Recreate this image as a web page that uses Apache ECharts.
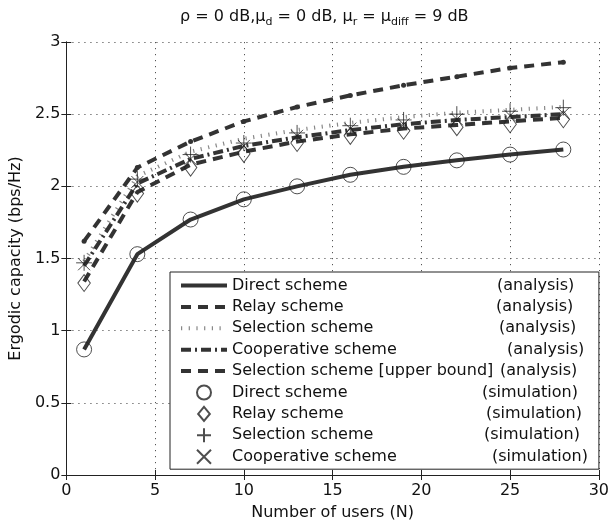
<!DOCTYPE html>
<html>
<head>
<meta charset="utf-8">
<script src="https://cdn.jsdelivr.net/npm/echarts@6/dist/echarts.min.js"></script>
<style>
html,body{margin:0;padding:0;background:#fff;}
#chart{width:612px;height:526px;}
</style>
</head>
<body>
<div id="chart"></div>
<script>
// ---- data ----
var users = [1, 4, 7, 10, 13, 16, 19, 22, 25, 28];

var directAnalysis      = [0.87, 1.53, 1.77, 1.91, 2.00, 2.08, 2.135, 2.18, 2.22, 2.255];
var relayAnalysis       = [1.34, 1.96, 2.15, 2.24, 2.31, 2.36, 2.40, 2.425, 2.45, 2.475];
var selectionAnalysis   = [1.48, 2.07, 2.24, 2.33, 2.39, 2.44, 2.48, 2.51, 2.53, 2.55];
var cooperativeAnalysis = [1.45, 2.02, 2.19, 2.28, 2.34, 2.39, 2.43, 2.46, 2.48, 2.50];
var upperBound          = [1.62, 2.13, 2.31, 2.45, 2.55, 2.63, 2.70, 2.76, 2.82, 2.86];

var directSim      = [0.87, 1.53, 1.77, 1.91, 2.00, 2.08, 2.135, 2.18, 2.22, 2.255];
var relaySim       = [1.33, 1.95, 2.13, 2.225, 2.30, 2.35, 2.385, 2.41, 2.43, 2.465];
var selectionSim   = [1.47, 2.05, 2.22, 2.30, 2.37, 2.42, 2.46, 2.50, 2.52, 2.545];
var cooperativeSim = [1.46, 2.03, 2.19, 2.28, 2.35, 2.40, 2.43, 2.465, 2.49, 2.505];

var legendNames = ['Direct scheme', 'Relay scheme', 'Selection scheme', 'Cooperative scheme',
                   'Selection scheme [upper bound]', 'Direct scheme', 'Relay scheme',
                   'Selection scheme', 'Cooperative scheme'];
var legendTags = ['(analysis)', '(analysis)', '(analysis)', '(analysis)', '(analysis)',
                  '(simulation)', '(simulation)', '(simulation)', '(simulation)'];

var xTicks = { min: 0, max: 30, interval: 5 };
var yTicks = { min: 0, max: 3, interval: 0.5 };

// ---- build ----
function pairs(ys) { return users.map(function (x, i) { return [x, ys[i]]; }); }
var FONT = 'DejaVu Sans';
var LINE = '#333';
var MK = '#222';
var seriesKeys = [];
for (var i = 0; i < legendNames.length; i++) seriesKeys.push(legendNames[i] + ' ' + legendTags[i]);

// column start offsets for tag text (px from text start)
var tagOffsets = [265, 264, 267, 275, 268, 250, 254, 252, 260];
var rich = { };
for (var k = 0; k < 9; k++) {
  rich['a' + k] = { width: tagOffsets[k], fontFamily: FONT, fontSize: 16, color: '#111', lineHeight: 21 };
}
rich.b = { fontFamily: FONT, fontSize: 16, color: '#111', lineHeight: 21 };

var plusPath = 'path://M5,0L5,10M0,5L10,5';
var crossPath = 'path://M0,0L10,10M10,0L0,10';
var diamondPath = 'path://M5,0L10,6L5,12L0,6Z';

var lineStyles = [
  { color: LINE, width: 4, type: 'solid' },
  { color: LINE, width: 4, type: [10, 7] },
  { color: '#888', width: 4, type: [1.2, 6.5] },
  { color: LINE, width: 4, type: [10, 4, 2, 4] },
  { color: LINE, width: 4, type: [10, 7] }
];

function lineSeries(idx, data, ls, extra) {
  var s = {
    name: seriesKeys[idx], type: 'line', data: pairs(data),
    symbol: 'none', showSymbol: false, silent: true, animation: false,
    lineStyle: ls, itemStyle: { color: ls.color }, z: 2
  };
  if (extra) for (var p in extra) s[p] = extra[p];
  return s;
}
function scatterSeries(idx, data, symbol, size) {
  return {
    name: seriesKeys[idx], type: 'scatter', data: pairs(data),
    symbol: symbol, symbolSize: size, symbolKeepAspect: true, silent: true, animation: false,
    itemStyle: { color: 'rgba(0,0,0,0)', borderColor: MK, borderWidth: 1 }, z: 5
  };
}

var legendData = seriesKeys.map(function (key, i) {
  if (i < 5) return {
    name: key, itemStyle: { opacity: 0 },
    lineStyle: { width: 4, color: lineStyles[i].color, type: lineStyles[i].type }
  };
  return { name: key };
});

var option = {
  backgroundColor: '#fff',
  animation: false,
  title: {
    left: 180, top: 6, padding: 0,
    text: '{n|ρ = 0 dB,μ}{s|d}{n| = 0 dB, μ}{s|r}{n| = μ}{s|diff}{n| = 9 dB}',
    textStyle: {
      fontWeight: 'normal',
      rich: {
        n: { fontFamily: FONT, fontSize: 16, fontWeight: 'normal', color: '#111', lineHeight: 22, verticalAlign: 'middle' },
        s: { fontFamily: FONT, fontSize: 11, fontWeight: 'normal', color: '#111', lineHeight: 11, verticalAlign: 'bottom' }
      }
    }
  },
  grid: { left: 62, right: 10, top: 42, bottom: 49, show: false },
  legend: {
    orient: 'vertical', left: 170, top: 272,
    padding: [3, 11, 2, 9], itemGap: 0.4, itemWidth: 46, itemHeight: 14,
    backgroundColor: '#fff', borderColor: '#222', borderWidth: 1,
    selectedMode: false,
    data: legendData,
    formatter: function (name) {
      var i = seriesKeys.indexOf(name);
      return '{a' + i + '|' + legendNames[i] + '}{b|' + legendTags[i] + '}';
    },
    textStyle: { rich: rich, fontFamily: FONT, fontSize: 16, lineHeight: 21, color: '#111' }
  },
  xAxis: [{
    type: 'value', min: xTicks.min, max: xTicks.max, interval: xTicks.interval,
    name: 'Number of users (N)', nameLocation: 'middle', nameGap: 30,
    nameTextStyle: { fontFamily: FONT, fontSize: 16, color: '#111' },
    axisLine: { show: true, lineStyle: { color: '#222', width: 1 } },
    axisTick: { show: true, inside: true, length: 5, lineStyle: { color: '#222' } },
    axisLabel: { fontFamily: FONT, fontSize: 16, color: '#111', margin: 8 },
    splitLine: { show: true, lineStyle: { color: '#555', type: [1.2, 4.8], width: 1 } }
  }, {
    type: 'value', position: 'top', min: xTicks.min, max: xTicks.max, interval: xTicks.interval,
    axisLine: { show: true, lineStyle: { color: '#222', width: 1 } },
    axisTick: { show: true, inside: true, length: 5, lineStyle: { color: '#222' } },
    axisLabel: { show: false }, splitLine: { show: false }
  }],
  yAxis: [{
    type: 'value', min: yTicks.min, max: yTicks.max, interval: yTicks.interval,
    name: 'Ergodic capacity (bps/Hz)', nameLocation: 'middle', nameGap: 38,
    nameTextStyle: { fontFamily: FONT, fontSize: 16, color: '#111' },
    axisLine: { show: true, lineStyle: { color: '#222', width: 1 } },
    axisTick: { show: true, inside: true, length: 5, lineStyle: { color: '#222' } },
    axisLabel: { fontFamily: FONT, fontSize: 16, color: '#111', margin: 6 },
    splitLine: { show: true, lineStyle: { color: '#555', type: [1.2, 4.8], width: 1 } }
  }, {
    type: 'value', position: 'right', min: yTicks.min, max: yTicks.max, interval: yTicks.interval,
    axisLine: { show: true, lineStyle: { color: '#222', width: 1 } },
    axisTick: { show: true, inside: true, length: 5, lineStyle: { color: '#222' } },
    axisLabel: { show: false }, splitLine: { show: false }
  }],
  series: [
    lineSeries(0, directAnalysis, lineStyles[0]),
    lineSeries(1, relayAnalysis, lineStyles[1]),
    lineSeries(2, selectionAnalysis, lineStyles[2]),
    lineSeries(3, cooperativeAnalysis, lineStyles[3]),
    lineSeries(4, upperBound, lineStyles[4],
      { symbol: 'circle', showSymbol: true, symbolSize: 5, itemStyle: { color: LINE } }),
    scatterSeries(5, directSim, 'circle', 15),
    scatterSeries(6, relaySim, diamondPath, [15, 17]),
    scatterSeries(7, selectionSim, plusPath, 16),
    scatterSeries(8, cooperativeSim, crossPath, 12)
  ]
};

var chart = echarts.init(document.getElementById('chart'), null, { renderer: 'canvas' });
chart.setOption(option);
</script>
</body>
</html>
